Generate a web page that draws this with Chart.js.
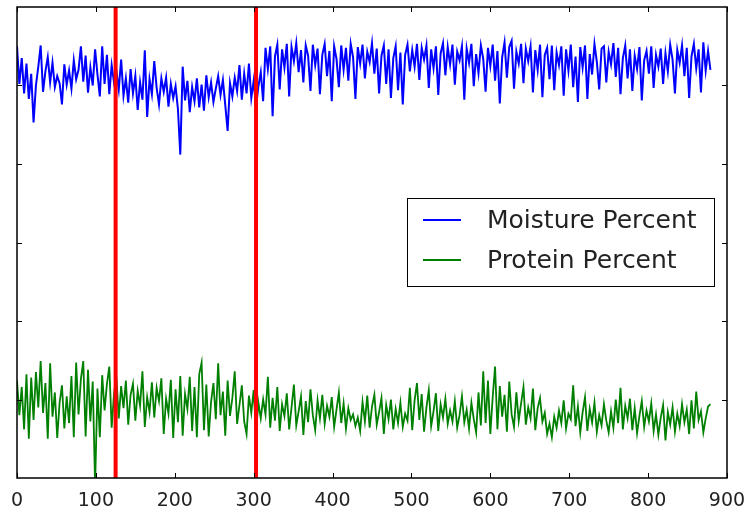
<!DOCTYPE html>
<html>
<head>
<meta charset="utf-8">
<script src="https://cdn.jsdelivr.net/npm/chart.js@4.4.0/dist/chart.umd.min.js"></script>
<style>
    html, body { margin: 0; padding: 0; background: #fff; }
    #wrap { width: 744px; height: 510px; }
</style>
</head>
<body>
<div id="wrap"><canvas id="chart"></canvas></div>
<script>
// one sample every 3 units along x
const step = 3;

const moisture = [
    55.0, 50.2, 53.5, 49.0, 52.8, 48.3, 51.5, 45.3, 50.0, 52.4, 55.1, 49.2, 51.8, 53.6, 50.4, 52.9, 49.8, 51.2, 50.3, 47.6, 52.7,
    50.1, 51.9, 49.6, 53.2, 50.8, 52.0, 55.0, 50.5, 53.8, 49.1, 52.3, 50.0, 54.6, 51.4, 48.6, 55.0, 50.2, 53.9, 48.9, 52.6, 50.4,
    51.8, 49.5, 53.3, 48.7, 50.9, 47.8, 52.1, 49.0, 51.2, 46.9, 50.4, 48.2, 54.5, 46.0, 50.8, 48.9, 53.1, 49.7, 47.6, 50.9, 49.2,
    51.0, 47.3, 50.2, 48.4, 49.9, 47.0, 41.2, 52.4, 48.1, 50.6, 46.6, 49.8, 48.0, 50.9, 47.2, 50.1, 46.8, 51.3, 48.5, 50.4, 47.9,
    49.6, 51.2, 48.8, 50.7, 47.5, 44.2, 50.3, 48.6, 51.0, 49.3, 52.6, 48.2, 51.5, 49.0, 52.8, 48.4, 50.6, 47.3, 49.9, 51.7, 48.0,
    54.8, 52.1, 55.0, 46.1, 53.7, 55.2, 49.5, 54.6, 52.3, 55.3, 48.6, 54.9, 53.1, 55.4, 51.7, 54.5, 50.4, 55.1, 53.8, 49.3, 55.2,
    52.6, 54.7, 48.9, 53.9, 55.3, 51.2, 54.4, 48.0, 55.0, 53.4, 49.8, 55.1, 52.0, 54.8, 50.6, 55.3, 53.6, 48.3, 54.9, 52.8, 55.2,
    50.9, 54.3, 53.0, 55.4, 51.5, 54.7, 49.0, 53.8, 55.1, 50.2, 54.6, 48.4, 53.5, 55.0, 49.4, 54.2, 47.6, 53.9, 55.2, 51.8, 54.5,
    52.4, 55.3, 50.7, 54.8, 53.3, 55.1, 49.7, 54.6, 52.2, 55.0, 48.8, 54.1, 55.4, 51.3, 54.9, 52.7, 55.2, 50.1, 54.3, 53.2, 55.0,
    48.2, 54.7, 52.9, 55.3, 49.9, 54.0, 51.6, 55.1, 53.4, 49.2, 54.8, 52.5, 55.2, 50.6, 54.4, 47.7, 53.6, 55.5, 51.0, 54.9, 55.7,
    49.6, 54.3, 52.8, 55.3, 50.3, 54.7, 53.1, 55.0, 49.1, 54.5, 52.0, 55.2, 48.5, 53.9, 54.8, 50.8, 55.1, 49.4, 54.2, 52.6, 55.0,
    48.7, 54.6, 51.9, 55.2, 49.8, 53.7, 47.9, 54.9, 52.3, 55.1, 48.3, 54.0, 51.4, 55.3, 53.0, 49.5, 54.7, 55.0, 50.4, 54.3, 52.7,
    55.4, 51.1, 54.8, 48.9, 53.5, 55.1, 50.9, 54.6, 49.3, 53.8, 52.1, 54.9, 48.1, 53.2, 54.4, 51.5, 55.0, 49.7, 53.9, 52.4, 54.7,
    50.2, 54.1, 51.8, 55.2, 53.3, 49.0, 54.5, 52.9, 55.1, 51.2, 54.8, 48.4, 53.7, 55.3, 52.2, 54.6, 49.1, 55.5, 51.9, 54.4, 52.0
];

const protein = [
    12.4, 8.0, 11.6, 6.2, 13.2, 5.0, 12.8, 7.4, 13.5, 9.0, 14.9, 8.3, 12.1, 5.0, 14.6, 7.8, 10.9, 5.1, 9.6, 11.8, 6.3,
    10.4, 7.0, 13.0, 5.2, 14.7, 8.1, 12.6, 14.9, 5.3, 13.8, 7.2, 12.3, -1.0, 11.4, 5.2, 13.1, 8.6, 12.0, 14.2, 6.4, 10.8,
    12.9, 7.6, 11.7, 8.9, 12.4, 6.8, 10.6, 12.0, 7.3, 11.1, 9.2, 13.6, 6.5, 10.3, 8.4, 12.2, 7.7, 11.5, 9.8, 12.7, 5.6,
    10.1, 8.2, 12.5, 5.1, 11.3, 7.1, 13.0, 5.4, 10.7, 8.8, 12.9, 6.0, 11.6, 5.2, 13.2, 14.7, 6.1, 11.9, 5.3, 9.7, 12.1,
    7.5, 14.6, 8.0, 11.0, 5.4, 12.4, 7.9, 10.2, 13.6, 6.9, 9.3, 11.8, 7.2, 5.6, 10.5, 8.3, 11.2, 5.9, 9.6, 7.6, 10.0,
    8.1, 12.9, 6.4, 10.2, 7.3, 11.6, 6.0, 9.4, 7.9, 10.8, 6.2, 9.0, 11.9, 6.7, 8.5, 10.4, 5.5, 9.8, 7.1, 11.3, 8.0,
    6.1, 9.9, 7.6, 10.6, 6.9, 9.2, 7.8, 10.3, 6.5, 8.7, 10.9, 7.0, 9.5, 6.3, 8.9, 7.4, 8.1, 6.6, 7.7, 6.0, 9.7,
    7.2, 10.5, 6.4, 9.1, 10.6, 6.8, 8.4, 10.2, 5.6, 9.3, 7.5, 10.0, 6.2, 8.8, 7.0, 9.6, 6.5, 8.2, 7.3, 11.5, 6.1,
    9.9, 12.1, 7.4, 10.7, 5.9, 9.0, 11.2, 6.6, 8.5, 10.8, 6.0, 9.4, 7.7, 10.1, 6.9, 8.6, 7.2, 9.8, 6.4, 8.0, 10.4,
    7.1, 8.7, 6.3, 9.6, 7.5, 5.8, 10.9, 6.7, 13.6, 7.0, 12.4, 5.6, 10.3, 14.2, 6.2, 11.7, 7.8, 10.6, 5.9, 12.3, 8.1,
    6.5, 10.9, 7.3, 9.5, 11.6, 6.8, 9.0, 7.6, 11.4, 6.1, 8.9, 10.2, 7.2, 8.3, 5.6, 6.9, 5.2, 7.8, 6.4, 8.6, 7.0,
    9.9, 6.3, 8.2, 7.5, 11.8, 6.6, 9.1, 5.8, 8.4, 10.3, 6.0, 8.8, 7.1, 9.6, 5.9, 8.0, 6.7, 9.4, 7.3, 5.8, 8.5,
    6.4, 10.0, 7.0, 11.5, 6.2, 9.2, 7.6, 10.1, 6.1, 8.9, 5.7, 7.9, 9.8, 6.5, 8.6, 7.2, 9.5, 6.0, 8.1, 5.5, 7.7,
    9.3, 4.8, 8.4, 6.8, 9.0, 5.9, 8.2, 6.6, 9.4, 7.1, 8.7, 5.6, 9.9, 6.3, 11.0, 7.4, 8.5, 5.8, 7.6, 9.1, 9.4
];

// vertical red markers (x positions)
const markers = [125, 303];

const xTicks = [0, 100, 200, 300, 400, 500, 600, 700, 800, 900];
const yTicks = [10, 20, 30, 40, 50];
const yMin = 0, yMax = 60;

const toPoints = arr => arr.map((v, i) => ({ x: i * step, y: v }));

const markerSets = markers.map(m => ({
    data: [{ x: m, y: yMin }, { x: m, y: yMax }],
    borderColor: '#ff0000',
    borderWidth: 4,
    pointRadius: 0,
    order: 0,
    inLegend: false
}));

// frame, inward ticks on all four sides, and the boxed legend
const framePlugin = {
    id: 'frame',
    afterDraw(chart) {
        const { ctx, chartArea: a, scales } = chart;
        ctx.save();
        ctx.strokeStyle = '#000';
        ctx.lineWidth = 1;
        ctx.beginPath();
        xTicks.forEach(t => {
            const px = Math.round(scales.x.getPixelForValue(t)) + 0.5;
            ctx.moveTo(px, a.bottom); ctx.lineTo(px, a.bottom - 5);
            ctx.moveTo(px, a.top); ctx.lineTo(px, a.top + 5);
        });
        yTicks.forEach(t => {
            const py = Math.round(scales.y.getPixelForValue(t)) + 0.5;
            ctx.moveTo(a.left, py); ctx.lineTo(a.left + 5, py);
            ctx.moveTo(a.right, py); ctx.lineTo(a.right - 5, py);
        });
        ctx.stroke();

        ctx.lineWidth = 1.5;
        ctx.strokeRect(a.left, a.top, a.right - a.left, a.bottom - a.top);

        // legend
        const items = chart.data.datasets.filter(d => d.inLegend !== false);
        const bx = 407, by = 198, bw = 307, bh = 88;
        ctx.fillStyle = '#fff';
        ctx.fillRect(bx, by, bw, bh);
        ctx.lineWidth = 1;
        ctx.strokeRect(bx + 0.5, by + 0.5, bw, bh);
        ctx.font = '25px "DejaVu Sans"';
        ctx.textBaseline = 'middle';
        items.forEach((d, i) => {
            const y = 220 + i * 40;
            ctx.strokeStyle = d.borderColor;
            ctx.lineWidth = 2;
            ctx.beginPath();
            ctx.moveTo(423, y); ctx.lineTo(461, y);
            ctx.stroke();
            ctx.fillStyle = '#222';
            ctx.fillText(d.label, 487, y + 1);
        });
        ctx.restore();
    }
};

new Chart(document.getElementById('chart'), {
    type: 'line',
    data: {
        datasets: [
            ...markerSets,
            {
                label: 'Moisture Percent',
                data: toPoints(moisture),
                borderColor: '#0000ff',
                borderWidth: 2,
                pointRadius: 0,
                order: 1
            },
            {
                label: 'Protein Percent',
                data: toPoints(protein),
                borderColor: '#008000',
                borderWidth: 1.8,
                pointRadius: 0,
                order: 1
            }
        ]
    },
    options: {
        responsive: true,
        maintainAspectRatio: false,
        animation: false,
        devicePixelRatio: 1,
        layout: { padding: { top: 7, right: 17, left: 0, bottom: 0 } },
        plugins: {
            legend: { display: false },
            tooltip: { enabled: false }
        },
        scales: {
            x: {
                type: 'linear',
                min: 0,
                max: 900,
                grid: { display: false },
                border: { display: false },
                afterBuildTicks: s => { s.ticks = xTicks.map(v => ({ value: v })); },
                afterFit: s => {
                    s.height = 32;
                    s.paddingLeft = 0;
                    s.paddingRight = 0;
                },
                ticks: {
                    color: '#222',
                    padding: 4,
                    maxRotation: 0,
                    autoSkip: false,
                    font: { family: 'DejaVu Sans', size: 19 }
                }
            },
            y: {
                min: yMin,
                max: yMax,
                grid: { display: false },
                border: { display: false },
                ticks: { display: false },
                afterFit: s => { s.width = 17; }
            }
        }
    },
    plugins: [framePlugin]
});
</script>
</body>
</html>
